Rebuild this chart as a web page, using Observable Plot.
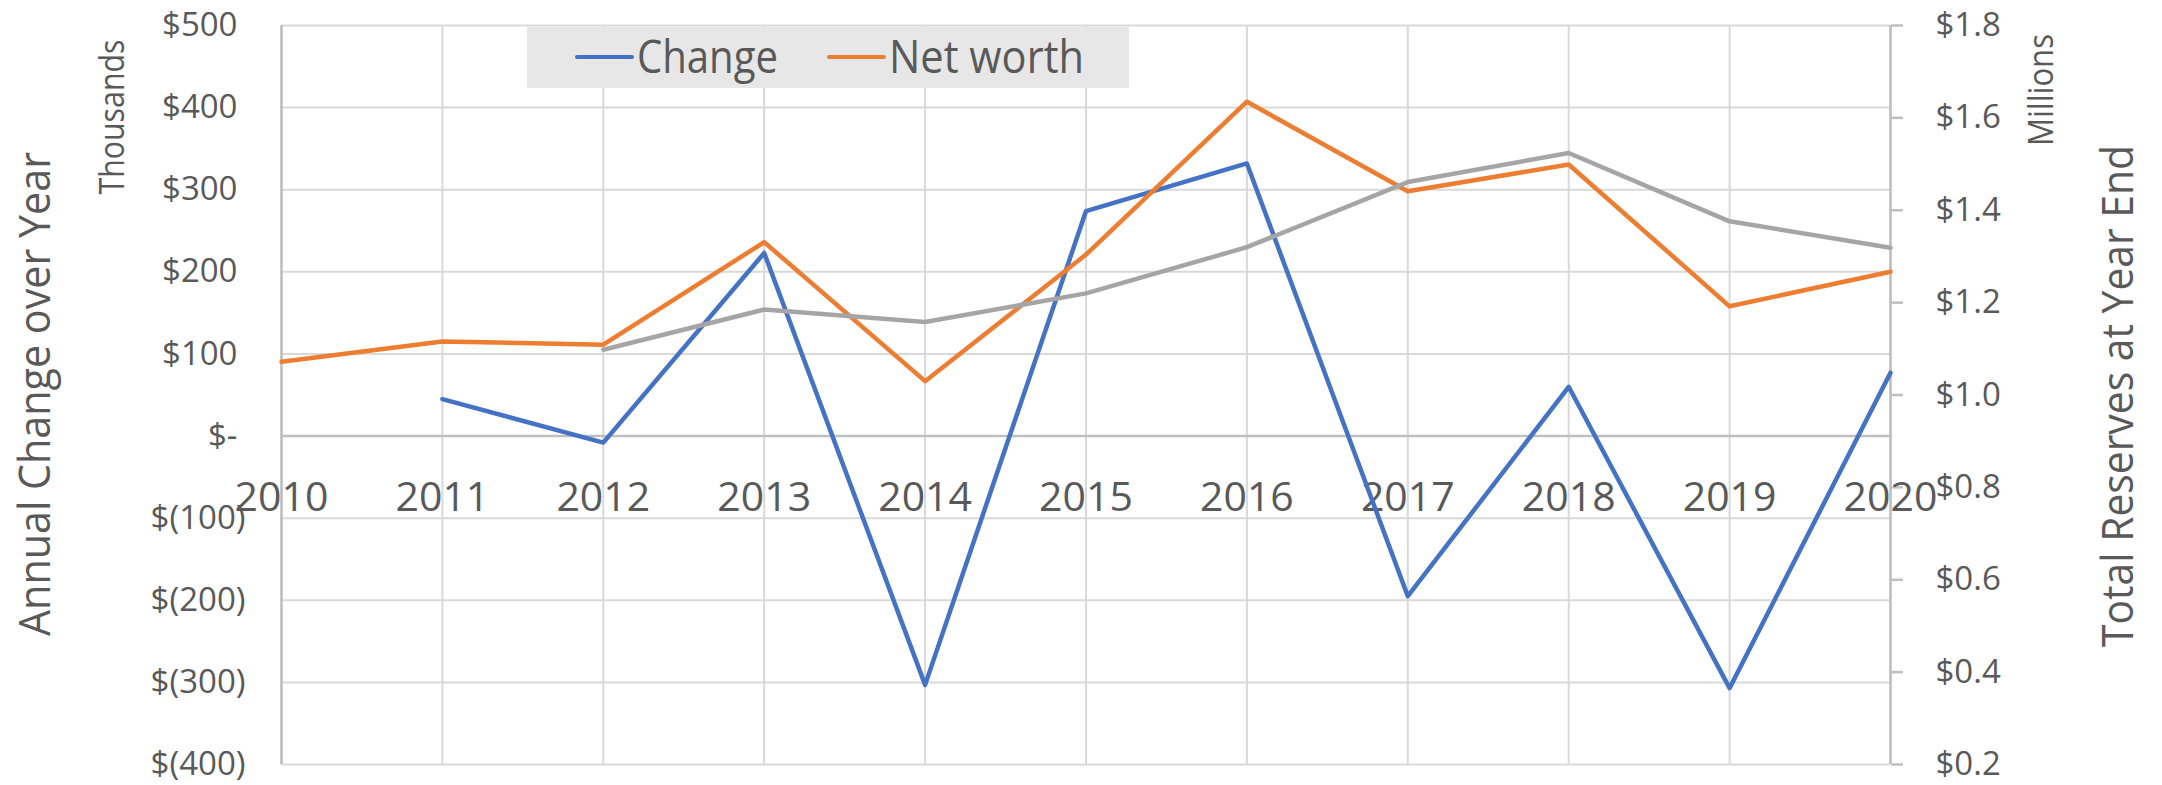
<!DOCTYPE html>
<html>
<head>
<meta charset="utf-8">
<script src="https://cdn.jsdelivr.net/npm/d3@7"></script>
<script src="https://cdn.jsdelivr.net/npm/@observablehq/plot@0.6"></script>
<style>
html, body { margin: 0; padding: 0; background: #fff; overflow: hidden; }
#wrap { position: relative; width: 2162px; height: 785px; }
</style>
</head>
<body>
<div id="wrap"></div>
<script>
// ---- data ----
const years = [2010, 2011, 2012, 2013, 2014, 2015, 2016, 2017, 2018, 2019, 2020];
// Annual change over year (thousands of $) – left axis
const change = [null, 45, -8, 223, -303, 274, 332, -195, 60, -307, 77];
// Net worth (millions of $) – right axis
const netWorth = [1.072, 1.116, 1.109, 1.331, 1.030, 1.304, 1.635, 1.441, 1.499, 1.192, 1.267];
// Third (unlabelled grey) series (millions of $) – right axis
const average = [null, null, 1.098, 1.185, 1.158, 1.220, 1.320, 1.461, 1.524, 1.376, 1.319];

const leftTicks = [-400, -300, -200, -100, 0, 100, 200, 300, 400, 500];
const rightTicks = [0.2, 0.4, 0.6, 0.8, 1.0, 1.2, 1.4, 1.6, 1.8];
const seriesNames = ["Change", "Net worth"];
const seriesColors = ["#4472C4", "#ED7D31", "#A5A5A5"];
const leftTitle = "Annual Change over Year";
const leftUnit = "Thousands";
const rightTitle = "Total Reserves at Year End";
const rightUnit = "Millions";

// right axis (millions 0.2..1.8) mapped onto left axis domain (-400..500)
const leftDomain = [-400, 500];
const rightDomain = [0.2, 1.8];
const toLeft = v => v == null ? null :
  leftDomain[0] + (v - rightDomain[0]) * (leftDomain[1] - leftDomain[0]) / (rightDomain[1] - rightDomain[0]);

const rows = years.map((yr, i) => ({
  year: yr,
  change: change[i],
  net: toLeft(netWorth[i]),
  avg: toLeft(average[i])
}));

const fmtLeft = v => v === 0 ? "$-" : v < 0 ? `$(${-v})` : `$${v}`;
const fmtRight = v => `$${v.toFixed(1)}`;

const textColor = "#595959";
const font = "'Open Sans', sans-serif";

const chart = Plot.plot({
  width: 2162,
  height: 785,
  marginLeft: 281,
  marginRight: 272,
  marginTop: 25,
  marginBottom: 21,
  style: { fontFamily: font, color: textColor, background: "#fff", overflow: "visible" },
  x: { domain: [2010, 2020], axis: null },
  y: { domain: leftDomain, axis: null, label: null },
  marks: [
    Plot.gridY(leftTicks.filter(v => v !== 0), { stroke: "#d9d9d9", strokeOpacity: 1, strokeWidth: 2 }),
    Plot.gridX(years, { stroke: "#d9d9d9", strokeOpacity: 1, strokeWidth: 2 }),
    Plot.ruleY([0], { stroke: "#bfbfbf", strokeWidth: 2.5 }),
    Plot.ruleX([years[0], years[years.length - 1]], { stroke: "#bfbfbf", strokeWidth: 2.5 }),
    // left axis labels
    Plot.axisY(leftTicks.filter(v => v >= 0), {
      anchor: "left", tickSize: 0, tickPadding: 44, tickFormat: fmtLeft,
      fontSize: 33, fill: textColor, label: null
    }),
    Plot.axisY(leftTicks.filter(v => v < 0), {
      anchor: "left", tickSize: 0, tickPadding: 36, tickFormat: fmtLeft,
      fontSize: 33, fill: textColor, label: null
    }),
    // right axis
    Plot.axisY(rightTicks.map(toLeft), {
      anchor: "right", tickSize: 12, tickPadding: 33,
      tickFormat: (d, i) => fmtRight(rightTicks[i]),
      stroke: "#bfbfbf", strokeWidth: 2.5, fill: textColor, fontSize: 33,
      textAnchor: "start", label: null
    }),
    // year labels next to the zero line
    Plot.text(years, {
      x: d => d, y: () => 0, dy: 62, text: d => String(d),
      fontSize: 41, fill: textColor
    }),
    Plot.lineY(rows, { x: "year", y: "change", stroke: seriesColors[0], strokeWidth: 4.5, strokeLinejoin: "round", strokeLinecap: "round" }),
    Plot.lineY(rows, { x: "year", y: "net", stroke: seriesColors[1], strokeWidth: 4.5, strokeLinejoin: "round", strokeLinecap: "round" }),
    Plot.lineY(rows, { x: "year", y: "avg", stroke: seriesColors[2], strokeWidth: 4.5, strokeLinejoin: "round", strokeLinecap: "round" })
  ]
});

document.getElementById("wrap").appendChild(chart);

const svg = d3.select(chart);

function vtext(str, x, yc, size, len) {
  svg.append("text")
    .attr("transform", `translate(${x},${yc}) rotate(-90)`)
    .attr("text-anchor", "middle")
    .attr("font-size", size)
    .attr("font-family", font)
    .attr("fill", textColor)
    .attr("textLength", len)
    .attr("lengthAdjust", "spacingAndGlyphs")
    .text(str);
}
vtext(leftTitle, 50, 394, 44, 484);
vtext(leftUnit, 124, 117, 34, 155);
vtext(rightUnit, 2053, 90, 34, 112);
vtext(rightTitle, 2133, 396, 44, 502);

// legend box
const lg = svg.append("g").attr("transform", "translate(527,27)");
lg.append("rect").attr("width", 602).attr("height", 61).attr("fill", "#e7e7e7");
const items = [
  { x: 50, tx: 110, len: 141 },
  { x: 302, tx: 362, len: 195 }
];
items.forEach((it, i) => {
  lg.append("line").attr("x1", it.x).attr("x2", it.x + 55).attr("y1", 30).attr("y2", 30)
    .attr("stroke", seriesColors[i]).attr("stroke-width", 4).attr("stroke-linecap", "round");
  lg.append("text").attr("x", it.tx).attr("y", 46)
    .attr("text-anchor", "start")
    .attr("font-size", 46).attr("font-family", font).attr("fill", textColor)
    .attr("textLength", it.len).attr("lengthAdjust", "spacingAndGlyphs")
    .text(seriesNames[i]);
});
</script>
</body>
</html>
